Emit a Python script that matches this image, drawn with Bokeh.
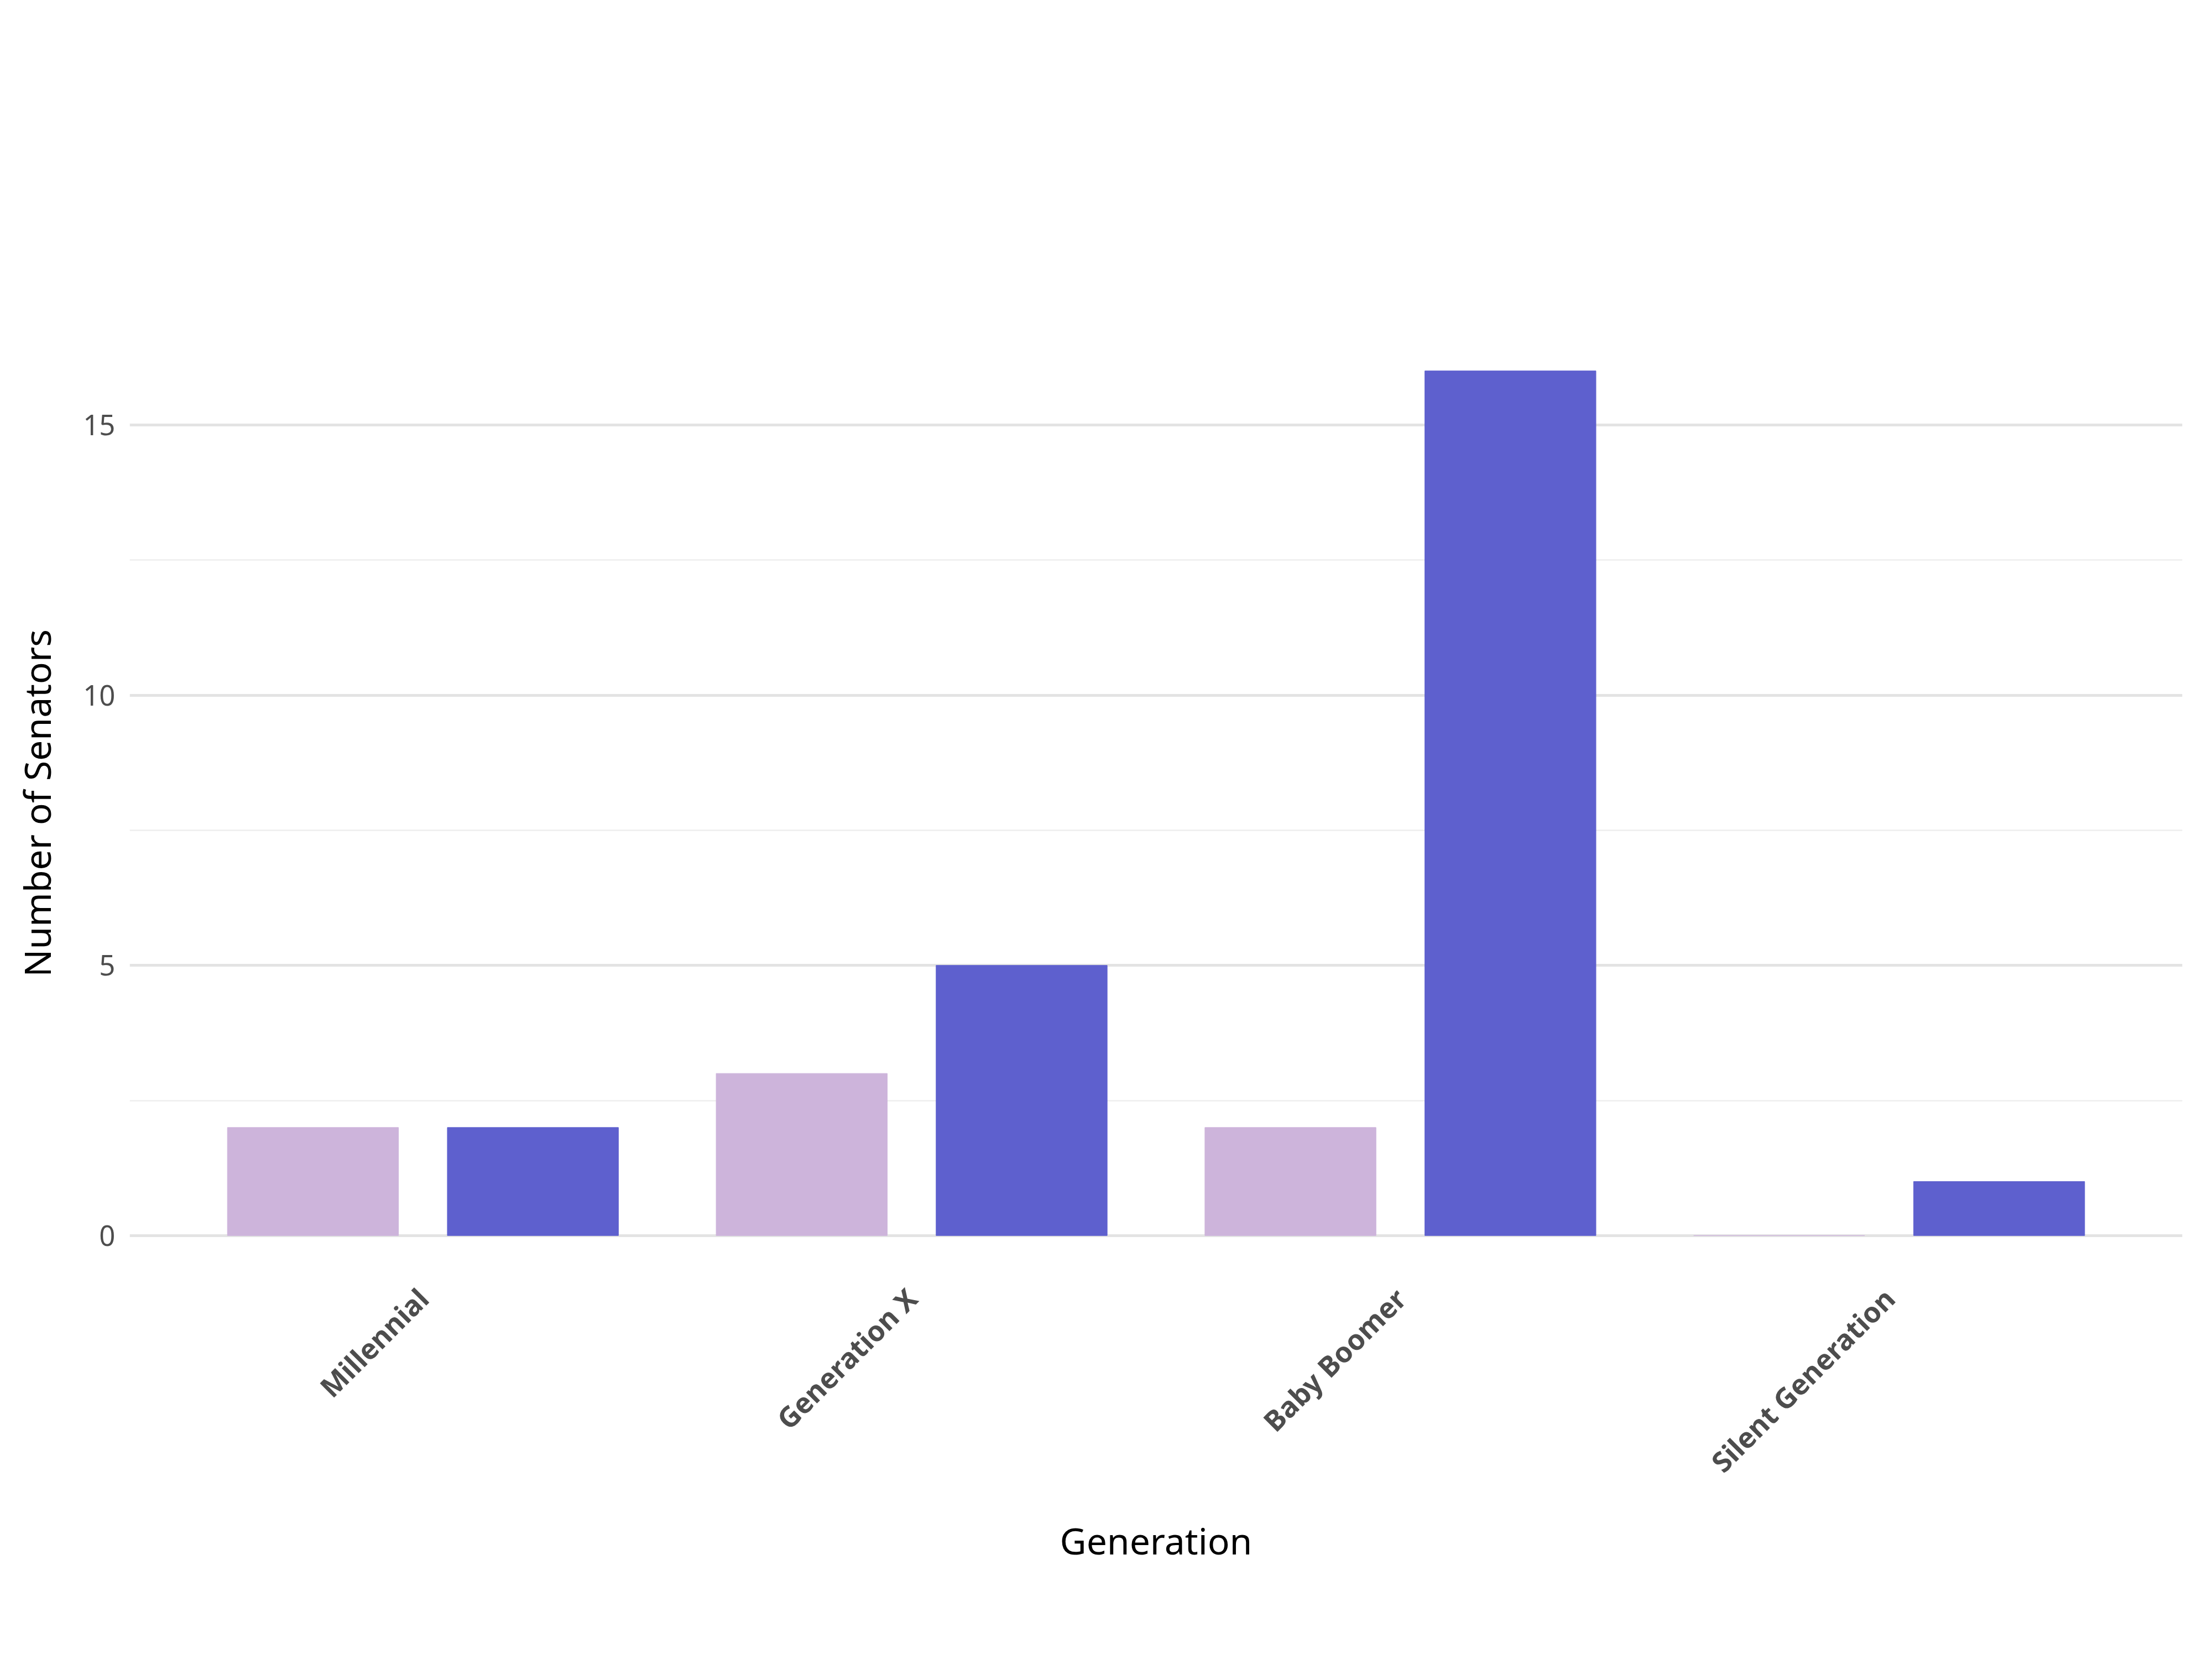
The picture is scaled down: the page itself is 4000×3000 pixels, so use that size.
from math import pi
from bokeh.plotting import figure
from bokeh.models import ColumnDataSource, Label, Legend, LegendItem, FixedTicker, Range1d
from bokeh.embed import file_html
from bokeh.resources import INLINE

generations = ["Millennial", "Generation X", "Baby Boomer", "Silent Generation"]
female = [2, 3, 2, 0]
male = [2, 5, 16, 1]

W, H = 3984, 2988
s = W / 1568  # layout measured on a 1568-wide copy of the reference
FONT = "Noto Sans"

def px(v):
    return "%dpx" % round(v * s)

p = figure(width=W, height=H, output_backend="svg", toolbar_location=None,
           x_range=Range1d(0.4, 4.6), y_range=Range1d(-0.8, 16.8),
           min_border_left=round(92 * s), min_border_right=round(15 * s),
           min_border_top=round(233 * s), min_border_bottom=round(266 * s))
p.outline_line_color = None

xs = list(range(1, len(generations) + 1))
src_f = ColumnDataSource(dict(x=[x - 0.225 for x in xs], top=female))
src_m = ColumnDataSource(dict(x=[x + 0.225 for x in xs], top=male))
rf = p.vbar(x="x", top="top", bottom=0, width=0.35, source=src_f, color="#cdb4db")
rm = p.vbar(x="x", top="top", bottom=0, width=0.35, source=src_m, color="#5e60ce")

p.xaxis.ticker = FixedTicker(ticks=xs)
p.xaxis.major_label_overrides = {x: g for x, g in zip(xs, generations)}
p.xaxis.major_label_orientation = pi / 4
p.xaxis.major_label_text_font_style = "bold"
p.yaxis.ticker = FixedTicker(ticks=[0, 5, 10, 15], minor_ticks=[2.5, 7.5, 12.5])
for ax in (p.xaxis, p.yaxis):
    ax.axis_line_color = None
    ax.major_tick_line_color = None
    ax.minor_tick_line_color = None
    ax.major_label_text_font = FONT
    ax.major_label_text_font_size = px(20)
    ax.major_label_text_color = "#4d4d4d"
    ax.major_label_standoff = round(8 * s)
    ax.axis_label_text_font = FONT
    ax.axis_label_text_font_size = px(26)
    ax.axis_label_text_font_style = "normal"
    ax.axis_label_text_color = "black"
p.xaxis.axis_label = "Generation"
p.yaxis.axis_label = "Number of Senators"
p.xaxis.axis_label_standoff = round(14 * s)
p.yaxis.axis_label_standoff = round(14 * s)

p.xgrid.grid_line_color = None
p.ygrid.grid_line_color = "#e3e3e3"
p.ygrid.grid_line_width = 2 * s
p.ygrid.minor_grid_line_color = "#eeeeee"
p.ygrid.minor_grid_line_width = 1 * s

legend = Legend(items=[LegendItem(label="Female", renderers=[rf]),
                       LegendItem(label="Male", renderers=[rm])],
                orientation="horizontal",
                location=(round((612 - 92) * s), round((910 - 192) * s)),
                title="Gender", title_location="left")
legend.title_text_font = FONT
legend.title_text_font_style = "bold"
legend.title_text_font_size = px(26)
legend.title_standoff = round(18 * s)
legend.label_text_font = FONT
legend.label_text_font_size = px(21)
legend.glyph_width = round(44 * s)
legend.glyph_height = round(44 * s)
legend.label_standoff = round(14 * s)
legend.spacing = round(18 * s)
legend.padding = round(4 * s)
legend.border_line_color = None
legend.background_fill_alpha = 0
p.add_layout(legend, "center")

# labels in screen units are relative to the frame's bottom-left corner
p.add_layout(Label(x=0, y=(910 - 50) * s, x_units="screen", y_units="screen",
                   text="Generations by Gender", text_font=FONT, text_font_size=px(44),
                   text_font_style="bold", text_color="#c8252c"))
p.add_layout(Label(x=0, y=(910 - 102) * s, x_units="screen", y_units="screen",
                   text="Wyoming Senate, 2025–2027", text_font=FONT, text_font_size=px(32),
                   text_font_style="bold", text_color="black"))
p.add_layout(Label(x=(1552 - 92) * s, y=(910 - 1155) * s, x_units="screen", y_units="screen",
                   text_align="right",
                   text="Source: Rutgers Eagleton Young Elected Leaders Project (2024)",
                   text_font=FONT, text_font_size=px(21), text_color="black"))

open("out.html", "w").write(file_html(p, INLINE))
